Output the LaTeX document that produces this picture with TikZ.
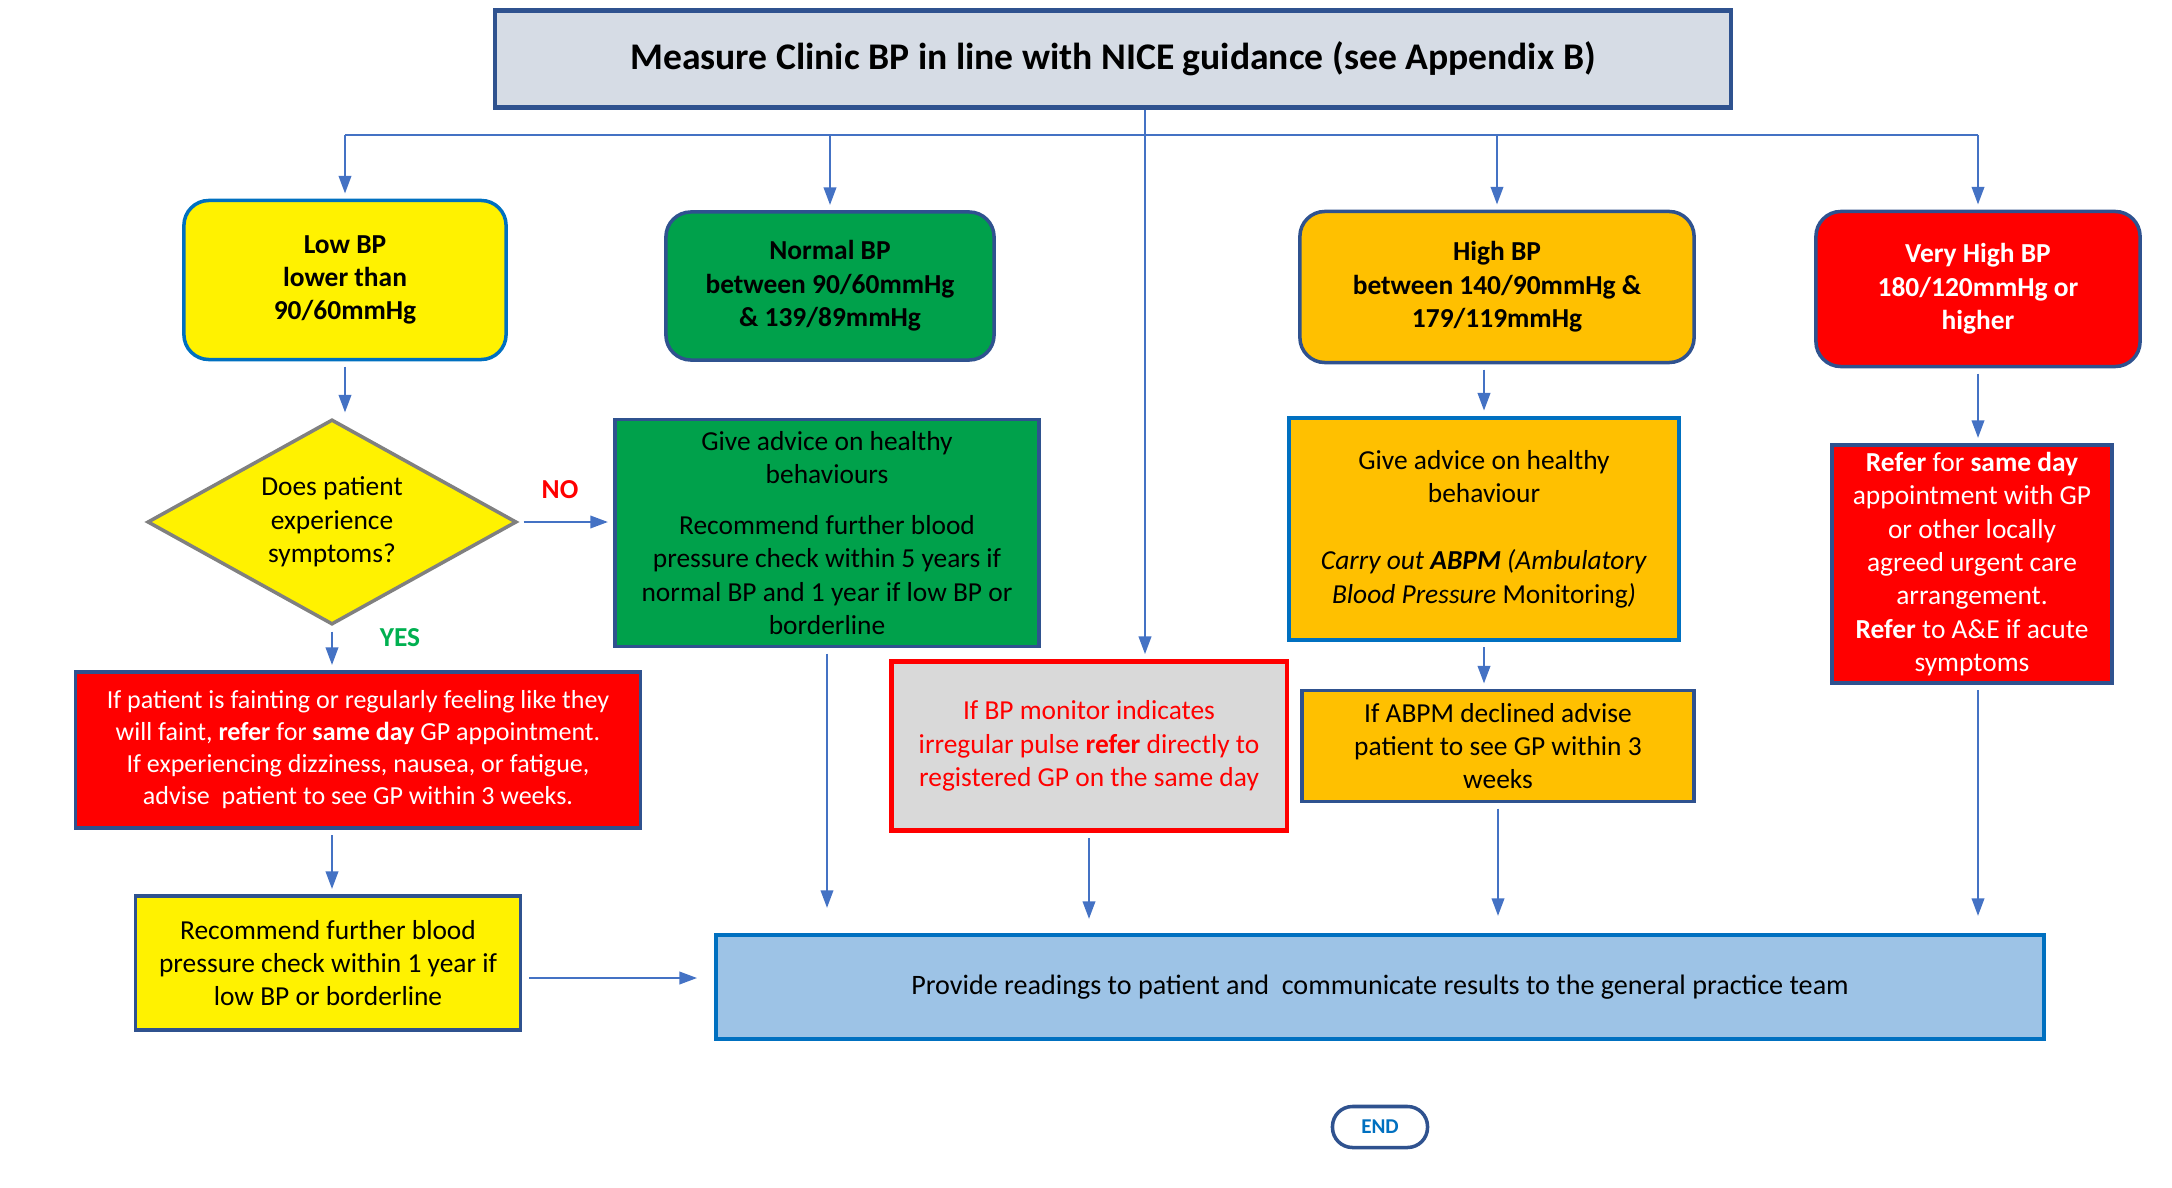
\documentclass[tikz,border=0pt]{standalone}
\usepackage{fontspec}
\setmainfont{Carlito}
\usetikzlibrary{positioning,shapes.geometric,arrows.meta}

\definecolor{linkblue}{HTML}{4472C4}
\definecolor{edgeblue}{HTML}{2F528F}
\definecolor{brightblue}{HTML}{0070C0}
\definecolor{titlegray}{HTML}{D6DCE5}
\definecolor{okgreen}{HTML}{00A14B}
\definecolor{amber}{HTML}{FFC000}
\definecolor{paleblue}{HTML}{9DC3E6}
\definecolor{greybox}{HTML}{D9D9D9}
\definecolor{yesgreen}{HTML}{00B050}

\begin{document}
\begin{tikzpicture}[
  x=0.01cm, y=-0.01cm,
  every node/.style={font=\fontsize{7.8}{9.5}\selectfont, align=center},
  box/.style={draw=edgeblue, line width=1pt, inner sep=2pt},
  bpbox/.style={box, rounded corners=0.25cm, font=\fontsize{7.8}{9.5}\selectfont\bfseries},
  decision/.style={diamond, draw=gray, line width=1pt, fill=yellow, aspect=1.8, inner sep=0pt},
  arrow/.style={-{Triangle[length=5pt,width=3.6pt]}, draw=linkblue, line width=0.5pt, shorten <=1.5pt, shorten >=1.5pt},
  line/.style={draw=linkblue, line width=0.5pt}
]
\useasboundingbox (0,0) rectangle (2172,1188);

% Title
\node[box, line width=1.2pt, fill=titlegray, minimum width=12.35cm, minimum height=0.97cm,
  font=\fontsize{10.7}{12}\selectfont\bfseries] (title) at (1113,59)
  {Measure Clinic BP in line with NICE guidance (see Appendix B)};
\coordinate (bus) at (1145,135);

% BP bands
\node[bpbox, draw=brightblue, fill=yellow, minimum width=3.22cm, minimum height=1.59cm] (low) at (345,280)
  {Low BP\\lower than\\90/60mmHg};
\node[bpbox, fill=okgreen, minimum width=3.28cm, minimum height=1.48cm] (normal) at (830,286)
  {Normal BP\\between 90/60mmHg\\\& 139/89mmHg};
\node[bpbox, fill=amber, minimum width=3.94cm, minimum height=1.51cm] (high) at (1497,287)
  {High BP\\between 140/90mmHg \&\\179/119mmHg};
\node[bpbox, fill=red, text=white, minimum width=3.24cm, minimum height=1.55cm] (vhigh) at (1978,289)
  {Very High BP\\180/120mmHg or\\higher};

% Low BP branch
\node[decision, minimum width=3.69cm, minimum height=2.05cm] (symp) at (332,522)
  {Does patient\\experience\\symptoms?};
\node[text=red, font=\fontsize{7.8}{9.5}\selectfont\bfseries] (no) at (560,490) {NO};
\node[text=yesgreen, font=\fontsize{7.8}{9.5}\selectfont\bfseries] (yes) at (400,638) {YES};
\node[box, fill=red, text=white, minimum width=5.65cm, minimum height=1.56cm,
  font=\fontsize{7.4}{9.1}\selectfont] (faint) at (358,750)
  {If patient is fainting or regularly feeling like they\\
   will faint, \textbf{refer} for \textbf{same day} GP appointment.\\
   If experiencing dizziness, nausea, or fatigue,\\
   advise~ patient to see GP within 3 weeks.};
\node[box, fill=yellow, minimum width=3.85cm, minimum height=1.34cm] (lowcheck) at (328,963)
  {Recommend further blood\\pressure check within 1 year if\\low BP or borderline};

% Normal BP branch
\node[box, fill=okgreen, minimum width=4.24cm, minimum height=2.27cm] (advnormal) at (827,533)
  {Give advice on healthy\\behaviours\\[4.9pt]
   Recommend further blood\\pressure check within 5 years if\\normal BP and 1 year if low BP or\\borderline};

% Irregular pulse
\node[box, draw=red, line width=1.2pt, fill=greybox, text=red, minimum width=3.95cm, minimum height=1.69cm] (irreg) at (1089,746)
  {If BP monitor indicates\\irregular pulse \textbf{refer} directly to\\registered GP on the same day};

% High BP branch
\node[box, draw=brightblue, line width=1.2pt, fill=amber, minimum width=3.90cm, minimum height=2.22cm] (advhigh) at (1484,529)
  {Give advice on healthy\\behaviour\\[9.6pt]
   \textit{Carry out \textbf{ABPM} (Ambulatory}\\\textit{Blood Pressure} Monitoring\textit{)}};
\node[box, fill=amber, minimum width=3.92cm, minimum height=1.11cm] (abpm) at (1498,746)
  {If ABPM declined advise\\patient to see GP within 3\\weeks};

% Very high BP branch
\node[box, fill=red, text=white, minimum width=2.80cm, minimum height=2.34cm] (refer) at (1972,564)
  {\textbf{Refer} for \textbf{same day}\\appointment with GP\\or other locally\\agreed urgent care\\arrangement.\\
   \textbf{Refer} to A\&E if acute\\symptoms};

% Results and end
\node[box, draw=brightblue, line width=1.2pt, fill=paleblue, minimum width=13.27cm, minimum height=1.04cm,
  font=\fontsize{8}{9.5}\selectfont] (results) at (1380,987)
  {Provide readings to patient and~ communicate results to the general practice team};
\node[box, rounded corners=0.2cm, fill=white, text=brightblue, font=\fontsize{6}{7}\selectfont\bfseries,
  minimum width=0.95cm, minimum height=0.41cm] (finish) at (1380,1127) {END};

% Connectors
\draw[line] (bus -| low) -- (bus -| vhigh);
\draw[arrow, shorten <=0pt] (title.south -| bus) -- (bus |- irreg.north);
\draw[arrow, shorten <=0pt] (bus -| low) -- (low.north);
\draw[arrow, shorten <=0pt] (bus -| normal) -- (normal.north);
\draw[arrow, shorten <=0pt] (bus -| high) -- (high.north);
\draw[arrow, shorten <=0pt] (bus -| vhigh) -- (vhigh.north);

\draw[arrow] (low.south) -- (low.south |- symp.north);
\draw[arrow] (symp.east) -- (symp.east -| advnormal.west);
\draw[arrow] (symp.south) -- (symp.south |- faint.north);
\draw[arrow] (faint.south -| symp) -- (symp |- lowcheck.north);
\draw[arrow, shorten <=0.07cm, shorten >=0.17cm] ([yshift=-0.15cm]lowcheck.east) -- ([yshift=-0.15cm]lowcheck.east -| results.west);

\draw[arrow, shorten >=0.25cm] (advnormal.south) -- (advnormal.south |- results.north);
\draw[arrow, shorten >=0.14cm] (irreg.south) -- (irreg.south |- results.north);

\draw[arrow] (advhigh.north |- high.south) -- (advhigh.north);
\draw[arrow] (advhigh.south) -- (advhigh.south |- abpm.north);
\draw[arrow, shorten >=0.17cm] (abpm.south) -- (abpm.south |- results.north);

\draw[arrow] (vhigh.south) -- (vhigh.south |- refer.north);
\draw[arrow, shorten >=0.17cm] (refer.south -| vhigh) -- (vhigh |- results.north);

\end{tikzpicture}
\end{document}
